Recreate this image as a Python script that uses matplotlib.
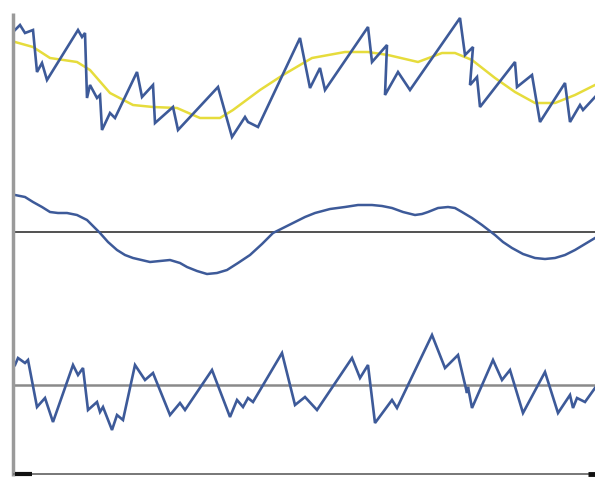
import matplotlib
matplotlib.use("Agg")
import matplotlib.pyplot as plt

# Top panel: noisy series and its trend
top_x = [15, 20, 25, 33, 37, 42, 47, 78, 82, 85, 87, 90, 97, 100, 102, 110, 115,
         137, 142, 153, 155, 173, 178, 218, 232, 245, 248, 258, 300, 310, 320, 325,
         368, 372, 387, 385, 398, 410, 460, 465, 473, 470, 477, 480, 515, 517, 532,
         540, 565, 570, 580, 583, 595]
top_y = [30, 25, 33, 30, 72, 63, 80, 30, 37, 33, 98, 85, 98, 95, 130, 113, 118,
         72, 97, 85, 123, 107, 130, 87, 137, 117, 122, 127, 38, 88, 68, 90,
         27, 62, 45, 95, 72, 90, 18, 55, 47, 85, 77, 107, 62, 87, 75,
         122, 83, 122, 105, 110, 97]

trend_x = [15, 33, 50, 77, 90, 110, 133, 153, 177, 200, 220, 233, 260, 283, 300,
           312, 345, 368, 388, 418, 442, 455, 472, 495, 515, 535, 555, 575, 595]
trend_y = [42, 47, 58, 62, 70, 93, 105, 107, 108, 118, 118, 110, 90, 75, 65,
           58, 52, 52, 55, 62, 53, 53, 60, 78, 92, 103, 103, 95, 85]

# Middle panel: smoothed deviation around a baseline
mid_x = [15, 25, 33, 42, 50, 58, 67, 77, 87, 93, 100, 108, 117, 125, 133, 150,
         170, 180, 187, 197, 207, 217, 227, 238, 250, 262, 273, 285, 295, 305,
         315, 330, 345, 358, 372, 382, 392, 403, 415, 422, 428, 438, 448, 455,
         462, 472, 482, 495, 503, 512, 523, 535, 545, 555, 565, 575, 585, 595]
mid_y = [195, 197, 202, 207, 212, 213, 213, 215, 220, 226, 233, 242, 250, 255,
         258, 262, 260, 263, 267, 271, 274, 273, 270, 263, 255, 244, 233, 227,
         222, 217, 213, 209, 207, 205, 205, 206, 208, 212, 215, 214, 212, 208,
         207, 208, 212, 218, 225, 235, 242, 248, 254, 258, 259, 258, 255, 250,
         244, 238]
mid_base = 232

# Bottom panel: residual noise around a baseline
bot_x = [15, 18, 25, 28, 37, 45, 53, 73, 78, 83, 88, 97, 100, 103, 112, 117, 123,
         135, 145, 153, 170, 180, 185, 212, 230, 237, 243, 248, 253, 282, 295,
         305, 317, 352, 360, 368, 375, 392, 397, 432, 445, 458, 467, 468, 472,
         493, 502, 510, 523, 545, 558, 570, 573, 577, 585, 595]
bot_y = [365, 358, 363, 360, 407, 398, 422, 365, 375, 368, 410, 402, 412, 407,
         430, 415, 420, 365, 380, 373, 415, 403, 410, 370, 417, 400, 407, 398,
         402, 353, 405, 397, 410, 358, 378, 365, 423, 400, 408, 335, 368, 355,
         393, 387, 408, 360, 380, 370, 413, 372, 413, 395, 408, 398, 402, 388]
bot_base = 385

BLUE = "#3d5a99"
YELLOW = "#e6dc3c"

fig = plt.figure(figsize=(5.95, 4.78), dpi=100)
ax = fig.add_axes([0, 0, 1, 1])
ax.set_xlim(0, 595)
ax.set_ylim(478, 0)
ax.axis("off")

ax.plot(trend_x, trend_y, color=YELLOW, lw=1.8, solid_joinstyle="round")
ax.plot(top_x, top_y, color=BLUE, lw=1.9, solid_joinstyle="miter")

ax.axhline(mid_base, xmin=14 / 595, xmax=1, color="#222222", lw=1.1)
ax.plot(mid_x, mid_y, color=BLUE, lw=1.8, solid_joinstyle="round")

ax.axhline(bot_base, xmin=14 / 595, xmax=1, color="#8a8a8a", lw=1.8)
ax.plot(bot_x, bot_y, color=BLUE, lw=1.9, solid_joinstyle="miter")

# Axes frame: vertical axis and time axis with end markers
ax.plot([12.5, 12.5], [13, 476], color="#9a9a9a", lw=2.5, solid_capstyle="butt")
ax.plot([14, 595], [473.5, 473.5], color="#777777", lw=1.4)
ax.plot([15, 32], [473.5, 473.5], color="#111111", lw=3.0, solid_capstyle="butt")
ax.plot([588, 595], [473.5, 473.5], color="#111111", lw=3.5, solid_capstyle="butt")

fig.savefig("out.png", dpi=100)
